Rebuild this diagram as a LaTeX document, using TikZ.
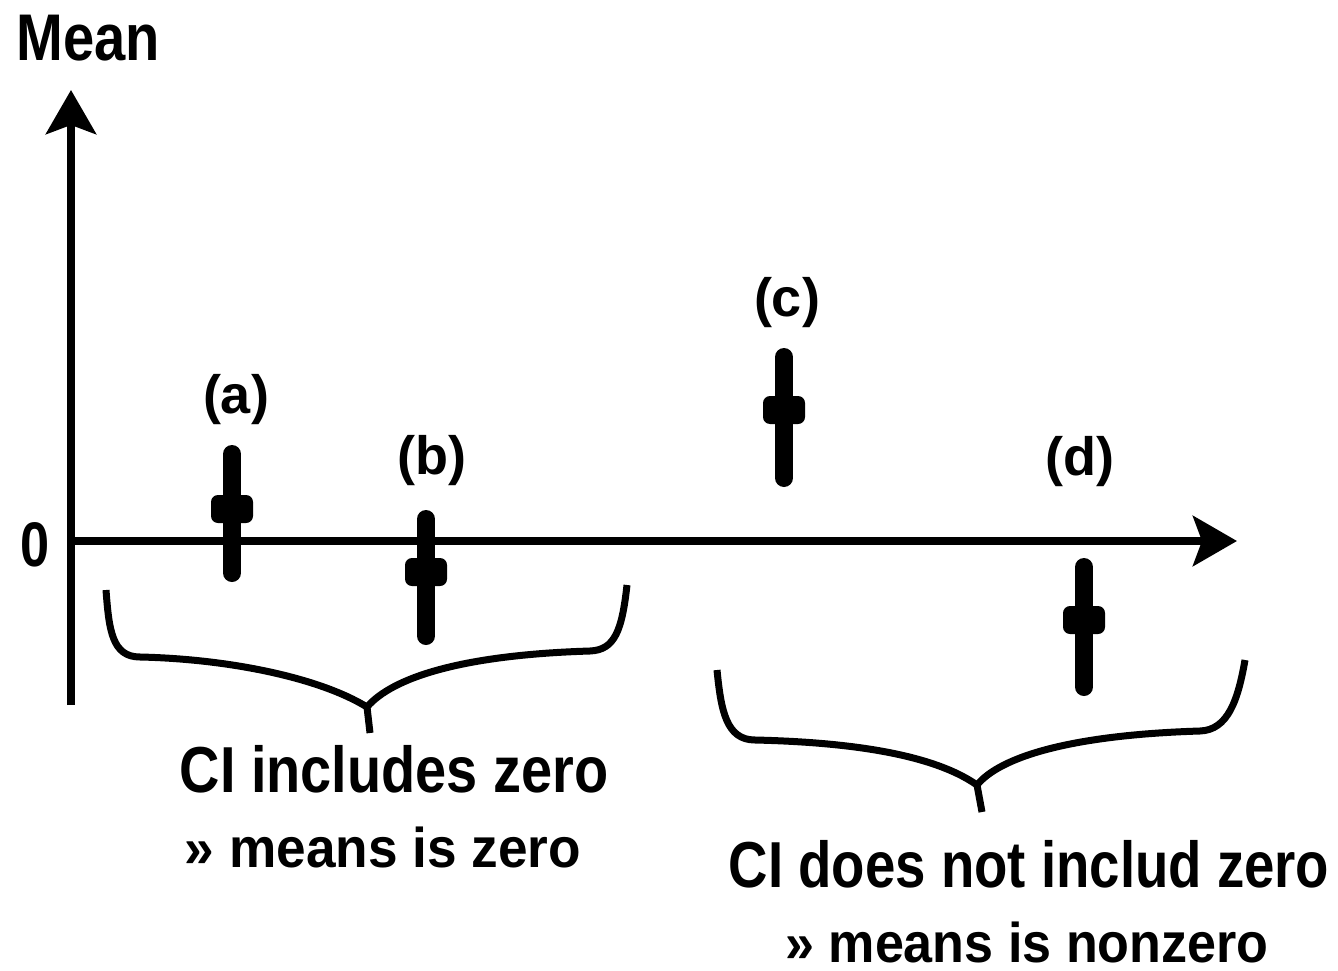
\documentclass[tikz,border=0pt]{standalone}
\usepackage{fontspec}
\usepackage{graphicx}
\setmainfont{Liberation Sans}
\usetikzlibrary{arrows.meta}
\begin{document}
\begin{tikzpicture}[x=1pt,y=-1pt,
  axisline/.style={line width=8pt,-{Stealth[length=44pt,width=50pt,inset=9pt]}},
  bracepath/.style={line width=7pt,line join=round},
  barline/.style={line width=18pt,line cap=round},
  meanmark/.style={draw=none,fill=black,rectangle,rounded corners=7pt,minimum width=42pt,minimum height=28pt,inner sep=0pt},
  lbl/.style={font=\bfseries\fontsize{54}{60}\selectfont,inner sep=0pt},
  bigtxt/.style={font=\bfseries\fontsize{65}{70}\selectfont,inner sep=0pt,anchor=base},
  smalltxt/.style={font=\bfseries\fontsize{56}{60}\selectfont,inner sep=0pt,anchor=base,text depth=0pt}]
\useasboundingbox (0,0) rectangle (1338,971);
% axes
\coordinate (ybot) at (71,705);
\coordinate (ytop) at (71,90);
\coordinate (orig) at (67,541);
\coordinate (xend) at (1237,541);
\draw[axisline] (ybot) -- (ytop);
\draw[axisline] (orig) -- (xend);
\node[inner sep=0pt,font=\bfseries\fontsize{66}{70}\selectfont] (mean) at (88,38) {\scalebox{0.85}[1]{Mean}};
\node[inner sep=0pt,font=\bfseries\fontsize{63}{66}\selectfont,anchor=base] (zero) at (35,566) {\scalebox{0.83}[1]{0}};
% error bars
\coordinate (ta) at (232,454); \coordinate (ba) at (232,573);
\coordinate (tb) at (426,519); \coordinate (bb) at (426,636);
\coordinate (tc) at (784,357); \coordinate (bc) at (784,478);
\coordinate (td) at (1084,567); \coordinate (bd) at (1084,687);
\draw[barline] (ta) -- (ba);
\draw[barline] (tb) -- (bb);
\draw[barline] (tc) -- (bc);
\draw[barline] (td) -- (bd);
\node[meanmark] (ma) at (232,509) {};
\node[meanmark] (mb) at (426,572) {};
\node[meanmark] (mc) at (784,410) {};
\node[meanmark] (md) at (1084,620) {};
\node[lbl] (la) at (236,400) {(a)};
\node[lbl] (lb) at (432,461) {(b)};
\node[lbl] (lc) at (787,303) {(c)};
\node[lbl] (ld) at (1080,462) {(d)};
% braces
\draw[bracepath] (106,590) .. controls (109,630) and (112,657) .. (140,657)
  .. controls (230,659) and (320,678) .. (367,707)
  .. controls (392,678) and (460,655) .. (590,651)
  .. controls (615,650) and (622,630) .. (627,585);
\draw[bracepath] (367,707) -- (370,733);
\draw[bracepath] (717,670) .. controls (721,710) and (726,740) .. (755,740)
  .. controls (840,742) and (930,752) .. (977,785)
  .. controls (1000,757) and (1070,735) .. (1200,731)
  .. controls (1228,730) and (1238,700) .. (1245,660);
\draw[bracepath] (977,785) -- (982,812);
% texts
\node[bigtxt] (t1) at (394,792) {\scalebox{0.86}[1]{CI includes zero}};
\node[smalltxt] (t2) at (383,867) {\scalebox{0.95}[1]{» means is zero}};
\node[bigtxt] (t3) at (1029,887) {\scalebox{0.84}[1]{CI does not includ zero}};
\node[smalltxt] (t4) at (1027,962) {\scalebox{0.93}[1]{» means is nonzero}};
\end{tikzpicture}
\end{document}
